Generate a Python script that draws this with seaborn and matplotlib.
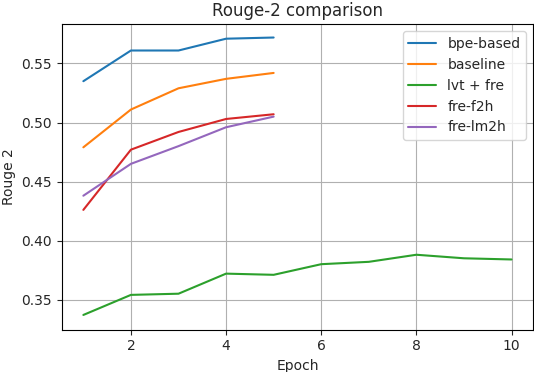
import matplotlib
matplotlib.use("Agg")
import matplotlib.pyplot as plt
import seaborn as sns
import pandas as pd

# Rouge-2 per epoch
epochs_short = [1, 2, 3, 4, 5]
epochs_long = [1, 2, 3, 4, 5, 6, 7, 8, 9, 10]
bpe_based = [0.535, 0.561, 0.561, 0.571, 0.572]
baseline = [0.479, 0.511, 0.529, 0.537, 0.542]
lvt_fre = [0.337, 0.354, 0.355, 0.372, 0.371, 0.380, 0.382, 0.388, 0.385, 0.384]
fre_f2h = [0.426, 0.477, 0.492, 0.503, 0.507]
fre_lm2h = [0.438, 0.465, 0.480, 0.496, 0.505]

series = [
    ('bpe-based', epochs_short, bpe_based),
    ('baseline', epochs_short, baseline),
    ('lvt + fre', epochs_long, lvt_fre),
    ('fre-f2h', epochs_short, fre_f2h),
    ('fre-lm2h', epochs_short, fre_lm2h),
]

rows = []
for name, xs, ys in series:
    for x, y in zip(xs, ys):
        rows.append({'Epoch': x, 'Rouge 2': y, 'model': name})
df = pd.DataFrame(rows)

sns.set_style("ticks")
plt.rcParams['font.family'] = ['DejaVu Sans']

fig, ax = plt.subplots(figsize=(5.34, 3.72), dpi=100)
fig.subplots_adjust(left=0.116, right=0.998, bottom=0.114, top=0.935)

palette = ['#1f77b4', '#ff7f0e', '#2ca02c', '#d62728', '#9467bd']
sns.lineplot(data=df, x='Epoch', y='Rouge 2', hue='model', palette=palette,
             linewidth=1.5, ax=ax)

ax.grid(True, color='#b0b0b0', linewidth=0.8)
ax.set_xticks([2, 4, 6, 8, 10])
ax.set_yticks([0.35, 0.40, 0.45, 0.50, 0.55])
ax.set_xlim(0.55, 10.45)
ax.set_ylim(0.3246, 0.5833)
for s in ax.spines.values():
    s.set_color('black')
    s.set_linewidth(0.8)
ax.tick_params(colors='#262626', labelsize=10, length=3.5, width=0.8)

ax.set_title('Rouge-2 comparison', fontsize=12)
ax.set_xlabel('Epoch', fontsize=10)
ax.set_ylabel('Rouge 2', fontsize=10)
ax.legend(title=None, loc='upper right', fontsize=10)

plt.savefig('out.png')
